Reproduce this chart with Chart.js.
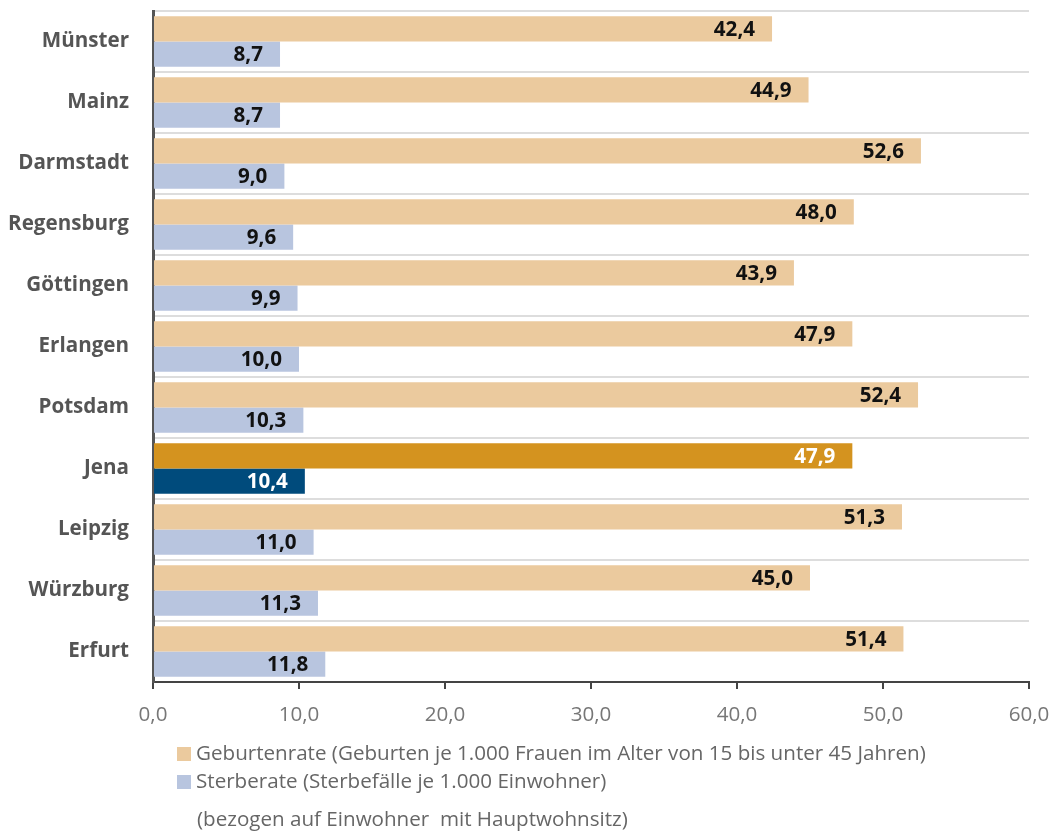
<!DOCTYPE html>
<html>
<head>
<meta charset="utf-8">
<script src="https://cdn.jsdelivr.net/npm/chart.js@4/dist/chart.umd.min.js"></script>
<style>
  html, body { margin: 0; padding: 0; background: #fff; }
  #wrap { width: 1051px; height: 831px; position: relative; }
</style>
</head>
<body>
<div id="wrap"><canvas id="cityChart"></canvas></div>
<script>
// Städtevergleich: Geburten- und Sterberate
const cities = ['Münster', 'Mainz', 'Darmstadt', 'Regensburg', 'Göttingen', 'Erlangen',
                'Potsdam', 'Jena', 'Leipzig', 'Würzburg', 'Erfurt'];
const birthRate = [42.4, 44.9, 52.6, 48.0, 43.9, 47.9, 52.4, 47.9, 51.3, 45.0, 51.4];
const deathRate = [8.7, 8.7, 9.0, 9.6, 9.9, 10.0, 10.3, 10.4, 11.0, 11.3, 11.8];
const xTicks = [0, 10, 20, 30, 40, 50, 60];
const seriesNames = [
    'Geburtenrate (Geburten je 1.000 Frauen im Alter von 15 bis unter 45 Jahren)',
    'Sterberate (Sterbefälle je 1.000 Einwohner)'
];
const footNote = '(bezogen auf Einwohner  mit Hauptwohnsitz)';
const highlight = 'Jena';

const FONT = '"Open Sans", sans-serif';
const fmt = v => v.toFixed(1).replace('.', ',');

const birthColors = cities.map(c => c === highlight ? '#d4931f' : '#ebca9e');
const deathColors = cities.map(c => c === highlight ? '#004b7c' : '#b8c5df');

// value labels at the inner end of each bar
const valueLabels = {
    id: 'valueLabels',
    afterDatasetsDraw(chart) {
        const ctx = chart.ctx;
        ctx.save();
        ctx.font = 'bold 20.6px ' + FONT;
        ctx.textAlign = 'right';
        ctx.textBaseline = 'middle';
        chart.data.datasets.forEach((ds, i) => {
            chart.getDatasetMeta(i).data.forEach((bar, j) => {
                ctx.fillStyle = cities[j] === highlight ? '#ffffff' : '#111111';
                ctx.fillText(fmt(ds.data[j]), bar.x - 17, bar.y + 1);
            });
        });
        ctx.restore();
    }
};

// legend + note below the axis
const bottomLegend = {
    id: 'bottomLegend',
    afterDraw(chart) {
        const ctx = chart.ctx;
        ctx.save();
        ctx.font = '20.6px ' + FONT;
        ctx.textBaseline = 'middle';
        ctx.textAlign = 'left';
        const rows = [754, 782];
        chart.data.datasets.forEach((ds, i) => {
            ctx.fillStyle = i === 0 ? '#ebca9e' : '#b8c5df';
            ctx.fillRect(177, rows[i] - 7, 14, 14);
            ctx.fillStyle = '#666';
            ctx.fillText(ds.label, 196, rows[i]);
        });
        ctx.fillText(footNote, 197, 820);
        ctx.restore();
    }
};

new Chart(document.getElementById('cityChart'), {
    type: 'bar',
    data: {
        labels: cities,
        datasets: [
            { label: seriesNames[0], data: birthRate, backgroundColor: birthColors },
            { label: seriesNames[1], data: deathRate, backgroundColor: deathColors }
        ]
    },
    options: {
        indexAxis: 'y',
        responsive: true,
        maintainAspectRatio: false,
        animation: false,
        layout: { padding: { top: 11, right: 22, bottom: 89, left: 0 } },
        datasets: { bar: { categoryPercentage: 0.83, barPercentage: 1.0 } },
        plugins: {
            legend: { display: false },
            tooltip: { enabled: false }
        },
        scales: {
            x: {
                min: 0,
                max: 60,
                afterBuildTicks: scale => { scale.ticks = xTicks.map(v => ({ value: v })); },
                afterFit: scale => {
                    scale.height = 60;
                    scale.paddingLeft = 0;
                    scale.paddingRight = 0;
                },
                border: { color: '#444', width: 2 },
                grid: { drawOnChartArea: false, drawTicks: true, tickLength: 7, color: '#444', lineWidth: 2 },
                ticks: {
                    padding: 14,
                    color: '#777',
                    font: { family: FONT, size: 20.6 },
                    callback: v => fmt(v)
                }
            },
            y: {
                afterFit: scale => {
                    scale.width = 153;
                    scale.paddingTop = 0;
                    scale.paddingBottom = 0;
                },
                border: { color: '#555', width: 3 },
                grid: { offset: true, drawTicks: false, color: '#dddddd', lineWidth: 2 },
                ticks: {
                    padding: 24,
                    color: '#555',
                    font: { family: FONT, size: 20.6, weight: 'bold' }
                }
            }
        }
    },
    plugins: [valueLabels, bottomLegend]
});
</script>
</body>
</html>
